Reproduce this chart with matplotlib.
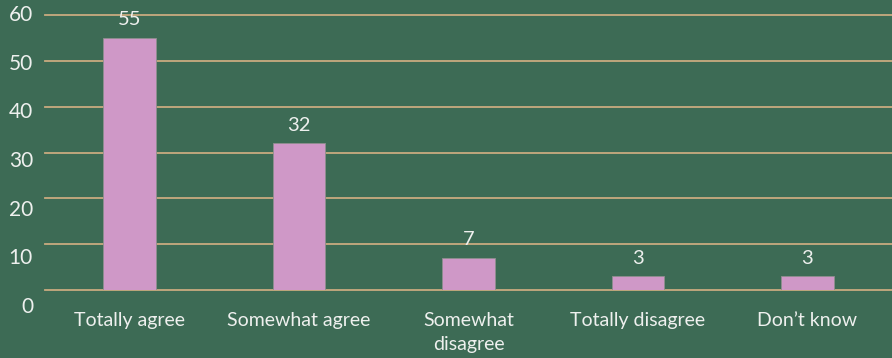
import matplotlib.pyplot as plt
from matplotlib.transforms import blended_transform_factory

categories = ["Totally agree", "Somewhat agree", "Somewhat\ndisagree", "Totally disagree", "Don\u2019t know"]
values = [55, 32, 7, 3, 3]
yticks = [0, 10, 20, 30, 40, 50, 60]

bg = "#3d6b55"
bar_col = "#cf98c7"
grid_col = "#c9ab80"
txt_col = "#eef0ee"

plt.rcParams["font.family"] = ["Lato", "DejaVu Sans"]

fig = plt.figure(figsize=(8.92, 3.58), dpi=100, facecolor=bg)
ax = fig.add_axes([45 / 892, 1 - 290 / 358, 847 / 892, 275 / 358])
ax.set_facecolor(bg)

x = list(range(len(categories)))
bars = ax.bar(x, values, width=0.31, color=bar_col, edgecolor="#8f8f8f", linewidth=0.6, zorder=3)

ax.set_xlim(-0.5, len(categories) - 0.5)
ax.set_ylim(0, 60)
ax.set_yticks(yticks)
for v in yticks:
    ax.axhline(v, color=grid_col, linewidth=1.3, zorder=1, clip_on=False)

for s in ax.spines.values():
    s.set_visible(False)

ax.set_xticks(x)
ax.set_xticklabels(categories, fontsize=14, color=txt_col, linespacing=1.45)
ax.tick_params(axis="x", length=0, pad=16)
ax.tick_params(axis="y", length=0, labelleft=False)

# y labels drift downward a little more than the gridlines do
tr = blended_transform_factory(fig.transFigure, fig.transFigure)
for v in yticks:
    ypix = 15 + (60 - v) / 10 * 48.7
    fig.text(33 / 892, 1 - ypix / 358, str(v), transform=tr, ha="right", va="center",
             fontsize=15, color=txt_col)

for b, v in zip(bars, values):
    ax.annotate(str(v), (b.get_x() + b.get_width() / 2, v), xytext=(0, 7),
                textcoords="offset points", ha="center", va="bottom",
                fontsize=14.5, color=txt_col)

fig.savefig("out.png", dpi=100, facecolor=bg)
